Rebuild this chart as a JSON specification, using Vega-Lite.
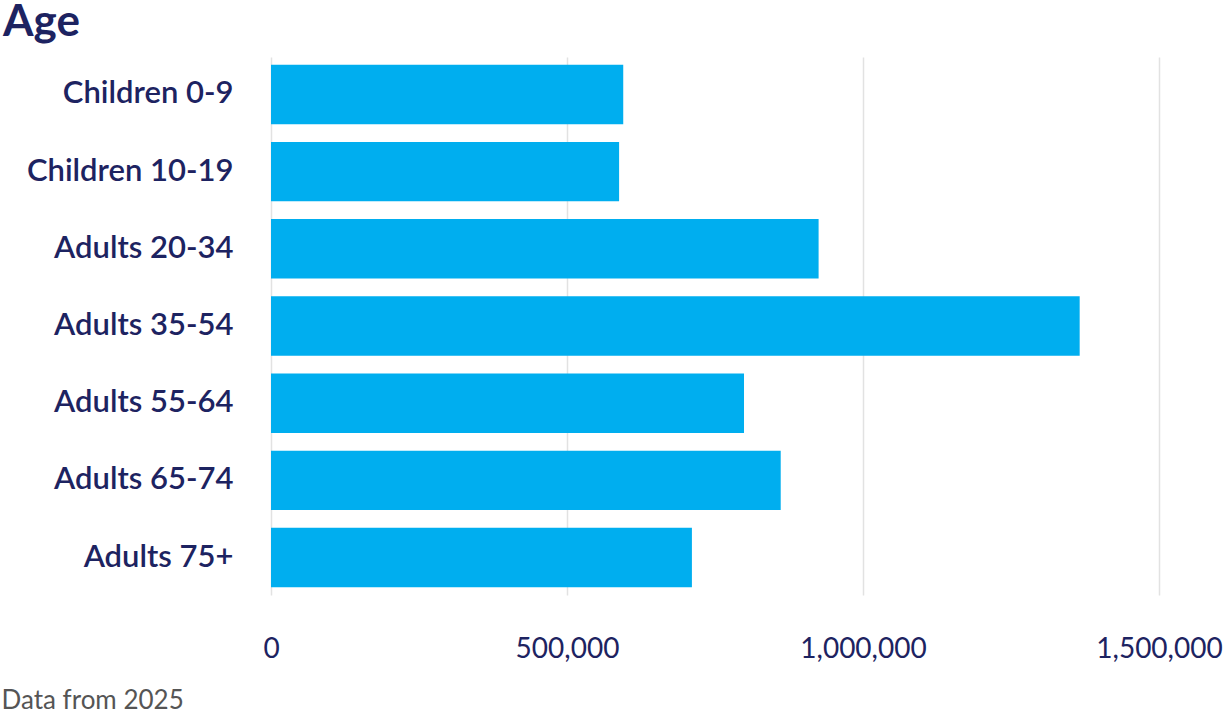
{
  "$schema": "https://vega.github.io/schema/vega-lite/v6.json",
  "autosize": {"type": "none"},
  "width": 888,
  "height": 538,
  "padding": {"left": 271, "top": 57, "right": 71, "bottom": 119},
  "background": "white",
  "title": {
    "text": "Age",
    "anchor": "start",
    "frame": "group",
    "dx": -268,
    "offset": 12,
    "fontSize": 44,
    "fontWeight": "bold",
    "font": "Lato",
    "color": "#1d2361"
  },
  "data": {
    "values": [
      {"age": "Children 0-9", "value": 595000},
      {"age": "Children 10-19", "value": 588000},
      {"age": "Adults 20-34", "value": 925000},
      {"age": "Adults 35-54", "value": 1366000},
      {"age": "Adults 55-64", "value": 799000},
      {"age": "Adults 65-74", "value": 861000},
      {"age": "Adults 75+", "value": 711000}
    ]
  },
  "mark": {"type": "bar", "color": "#00aeef"},
  "encoding": {
    "y": {
      "field": "age",
      "type": "nominal",
      "sort": null,
      "scale": {"paddingInner": 0.23, "paddingOuter": 0.1},
      "axis": {
        "title": null,
        "domain": false,
        "ticks": false,
        "grid": false,
        "labelFont": "Lato",
        "labelFontSize": 31,
        "labelFontWeight": 600,
        "labelColor": "#1d2361",
        "labelPadding": 38,
        "labelLimit": 400
      }
    },
    "x": {
      "field": "value",
      "type": "quantitative",
      "scale": {"domain": [0, 1500000], "nice": false},
      "axis": {
        "values": [0, 500000, 1000000, 1500000],
        "format": ",.0f",
        "domain": false,
        "ticks": false,
        "grid": true,
        "gridColor": "#e2e2e2",
        "gridWidth": 1.5,
        "labelFont": "Lato",
        "labelFontSize": 28,
        "labelColor": "#1d2361",
        "labelPadding": 40,
        "labelFlush": false,
        "title": "Data from 2025",
        "titleFont": "Lato",
        "titleFontSize": 26,
        "titleFontWeight": "normal",
        "titleColor": "#555555",
        "titleAlign": "left",
        "titleAnchor": "start",
        "titleBaseline": "alphabetic",
        "titleX": -270,
        "titleY": 113
      }
    }
  },
  "config": {"view": {"stroke": null}}
}
